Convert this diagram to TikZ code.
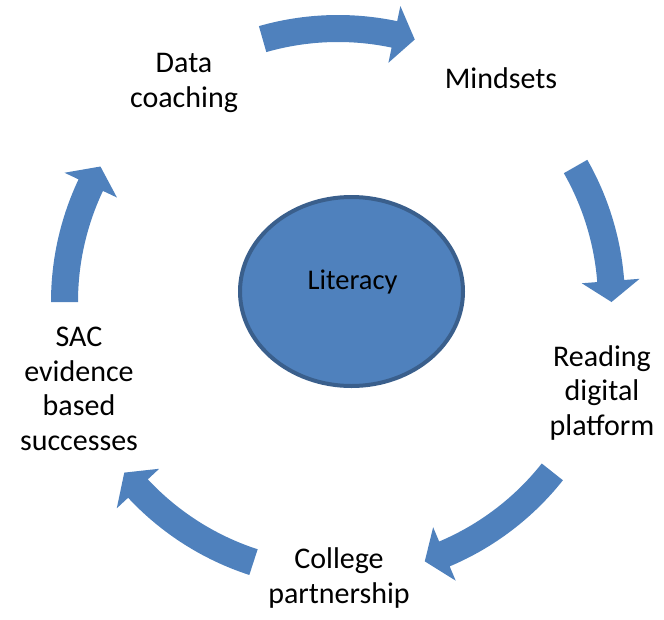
\documentclass[tikz,border=0pt]{standalone}
\usepackage{fontspec}
\setmainfont{Carlito}
\usetikzlibrary{shapes.geometric}
\definecolor{arrowblue}{HTML}{4F81BD}
\definecolor{ringblue}{HTML}{3A5F8C}
\tikzset{
  arrowfill/.style={fill=arrowblue},
  cyclelabel/.style={align=center, inner sep=0pt, anchor=base, font=\fontsize{30}{34.5}\selectfont},
}
% #1 = tail angle, #2 = tip angle (TikZ angles, clockwise => decreasing)
\newcommand{\cyclearrow}[2]{%
  \pgfmathsetmacro{\hb}{#2+4.4}%
  \fill[arrowfill] (#1:287pt) arc[start angle=#1, end angle=\hb, radius=287pt]
    -- (\hb:302.5pt) -- (#2:273.5pt) -- (\hb:244.5pt) -- (\hb:260pt)
    arc[start angle=\hb, end angle=#1, radius=260pt] -- cycle;}
\begin{document}
\begin{tikzpicture}[x=1pt,y=1pt]
\useasboundingbox (0,0) rectangle (664,-619);
\coordinate (C) at (338,-302);
\begin{scope}[shift={(C)}]
  \cyclearrow{106}{73.7}
  \cyclearrow{29.7}{0}
  \cyclearrow{-38.4}{-71.5}
  \cyclearrow{-108}{-141.4}
  \cyclearrow{-180}{-209.7}
\end{scope}
\node[ellipse, draw=ringblue, line width=4pt, fill=arrowblue, minimum width=223pt, minimum height=189pt, inner sep=0pt] (lit) at (351.5,-291.5) {};
\node[inner sep=0pt, anchor=base, font=\fontsize{28.5}{34}\selectfont] (littext) at (352.5,-289) {Literacy};
\node[cyclelabel] (data) at (184,-107) {Data\\coaching};
\node[cyclelabel] (mind) at (501,-88) {Mindsets};
\node[cyclelabel] (read) at (602,-435) {Reading\\digital\\platform};
\node[cyclelabel] (coll) at (339,-603) {College\\partnership};
\node[cyclelabel] (sac) at (79,-450) {SAC\\evidence\\based\\successes};
\end{tikzpicture}
\end{document}
